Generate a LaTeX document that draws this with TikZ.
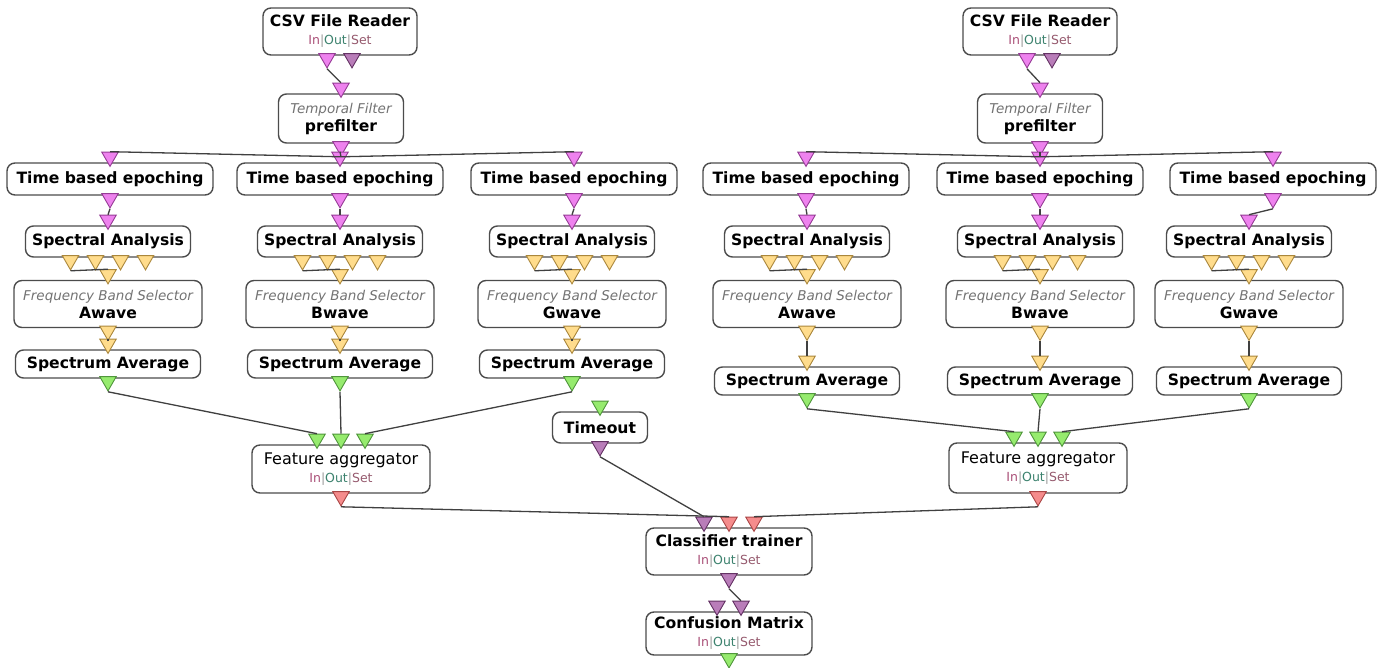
\documentclass[tikz,border=0pt]{standalone}
\usepackage{fontspec}
\setmainfont{DejaVu Sans}
\usetikzlibrary{positioning,shapes.geometric}

\definecolor{sigfill}{RGB}{238,130,238}
\definecolor{sigdraw}{RGB}{150,60,150}
\definecolor{spcfill}{RGB}{255,220,140}
\definecolor{spcdraw}{RGB}{170,135,60}
\definecolor{matfill}{RGB}{150,235,110}
\definecolor{matdraw}{RGB}{80,150,60}
\definecolor{stmfill}{RGB}{185,125,185}
\definecolor{stmdraw}{RGB}{100,50,100}
\definecolor{ftrfill}{RGB}{245,140,140}
\definecolor{ftrdraw}{RGB}{170,70,70}
\definecolor{incol}{RGB}{170,80,120}
\definecolor{outcol}{RGB}{60,130,110}
\definecolor{setcol}{RGB}{150,90,110}

\newcommand{\bftxt}{\fontsize{15.6}{18}\selectfont\bfseries}
\newcommand{\rmtxt}{\fontsize{16}{18}\selectfont\mdseries}
\newcommand{\ittxt}{\fontsize{13.5}{16}\selectfont\mdseries\itshape\color{black!55}}
\newcommand{\ios}{{\fontsize{12.5}{14}\selectfont\mdseries\textcolor{incol}{In}\textcolor{black!40}{|}\textcolor{outcol}{Out}\textcolor{black!40}{|}\textcolor{setcol}{Set}}}

\tikzset{
  box/.style={draw=black!70, line width=1.4pt, rounded corners=8pt, fill=white,
    inner sep=0pt, font=\bftxt, align=center},
  port/.style={regular polygon, regular polygon sides=3, shape border rotate=180,
    minimum size=19pt, inner sep=0pt, line width=0.9pt},
  sig/.style={port, fill=sigfill, draw=sigdraw},
  spc/.style={port, fill=spcfill, draw=spcdraw},
  mat/.style={port, fill=matfill, draw=matdraw},
  stm/.style={port, fill=stmfill, draw=stmdraw},
  ftr/.style={port, fill=ftrfill, draw=ftrdraw},
  link/.style={draw=black!75, line width=1.3pt}
}

% one band: epoching -> spectral analysis -> band selector -> average
\newcommand{\bandcolumn}[5]{%
  \node[box, minimum width=206pt, minimum height=32pt] (#1ep) at (#2,179) {Time based epoching};
  \node[sig, above=-5pt of #1ep.north] (#1epi) {};
  \node[sig, below=-2.5pt of #1ep.south] (#1epo) {};
  \node[box, minimum width=165pt, minimum height=31pt] (#1sa) at (#3,241.5) {Spectral Analysis};
  \node[sig, above=-5pt of #1sa.north] (#1sai) {};
  \foreach \k/\dx in {1/-37.5,2/-12.5,3/12.5,4/37.5}
    \node[spc, below=-2.5pt of #1sa.south, xshift=\dx pt] (#1sao\k) {};
  \node[box, minimum width=188pt, minimum height=47pt] (#1fb) at (#3,304) {{\ittxt Frequency Band Selector}\\#5};
  \node[spc, above=-5pt of #1fb.north] (#1fbi) {};
  \node[spc, below=-2.5pt of #1fb.south] (#1fbo) {};
  \node[box, minimum width=185pt, minimum height=28pt] (#1av) at (#3,#4) {Spectrum Average};
  \node[spc, above=-5pt of #1av.north] (#1avi) {};
  \node[mat, below=-2.5pt of #1av.south] (#1avo) {};
  \draw[link] (#1epo.south) -- (#1sai.north);
  \draw[link] (#1sao1.south) -- (#1fbi.north);
  \draw[link] (#1fbo.south) -- (#1avi.north);
}

\begin{document}
\begin{tikzpicture}[x=1pt, y=-1pt]
  \path[use as bounding box, fill=white] (0,0) rectangle (1386,668);

  % left scenario
  \node[box, minimum width=154pt, minimum height=47pt] (csvL) at (340,31.5) {CSV File Reader\\\ios};
  \node[sig, below=-2.5pt of csvL.south, xshift=-13pt] (csvLo1) {};
  \node[stm, below=-2.5pt of csvL.south, xshift=12pt] (csvLo2) {};
  \node[box, minimum width=125pt, minimum height=49pt] (preL) at (341,118.5) {{\ittxt Temporal Filter}\\prefilter};
  \node[sig, above=-5pt of preL.north] (preLi) {};
  \node[sig, below=-2.5pt of preL.south] (preLo) {};
  \draw[link] (csvLo1.south) -- (preLi.north);

  \bandcolumn{la}{110}{108}{364}{Awave}
  \bandcolumn{lb}{340}{340}{364}{Bwave}
  \bandcolumn{lg}{574}{572}{364}{Gwave}
  \foreach \c in {la,lb,lg}
    \draw[link] (preLo.south) -- (\c epi.north);

  \node[box, font=\rmtxt, minimum width=178pt, minimum height=48pt] (faL) at (341,469) {Feature aggregator\\\ios};
  \node[mat, above=-5pt of faL.north, xshift=-24pt] (faLi1) {};
  \node[mat, above=-5pt of faL.north] (faLi2) {};
  \node[mat, above=-5pt of faL.north, xshift=24pt] (faLi3) {};
  \node[ftr, below=-2.5pt of faL.south] (faLo) {};
  \draw[link] (laavo.south) -- (faLi1.north);
  \draw[link] (lbavo.south) -- (faLi2.north);
  \draw[link] (lgavo.south) -- (faLi3.north);

  % right scenario
  \node[box, minimum width=154pt, minimum height=47pt] (csvR) at (1040,31.5) {CSV File Reader\\\ios};
  \node[sig, below=-2.5pt of csvR.south, xshift=-13pt] (csvRo1) {};
  \node[stm, below=-2.5pt of csvR.south, xshift=12pt] (csvRo2) {};
  \node[box, minimum width=125pt, minimum height=49pt] (preR) at (1040,118.5) {{\ittxt Temporal Filter}\\prefilter};
  \node[sig, above=-5pt of preR.north] (preRi) {};
  \node[sig, below=-2.5pt of preR.south] (preRo) {};
  \draw[link] (csvRo1.south) -- (preRi.north);

  \bandcolumn{ra}{806}{807}{381}{Awave}
  \bandcolumn{rb}{1040}{1040}{381}{Bwave}
  \bandcolumn{rg}{1273}{1249}{381}{Gwave}
  \foreach \c in {ra,rb,rg}
    \draw[link] (preRo.south) -- (\c epi.north);

  \node[box, font=\rmtxt, minimum width=178pt, minimum height=50pt] (faR) at (1038,468) {Feature aggregator\\\ios};
  \node[mat, above=-5pt of faR.north, xshift=-24pt] (faRi1) {};
  \node[mat, above=-5pt of faR.north] (faRi2) {};
  \node[mat, above=-5pt of faR.north, xshift=24pt] (faRi3) {};
  \node[ftr, below=-2.5pt of faR.south] (faRo) {};
  \draw[link] (raavo.south) -- (faRi1.north);
  \draw[link] (rbavo.south) -- (faRi2.north);
  \draw[link] (rgavo.south) -- (faRi3.north);

  % training
  \node[box, minimum width=95pt, minimum height=31pt] (tmo) at (600,427.5) {Timeout};
  \node[mat, above=-5pt of tmo.north] (tmoi) {};
  \node[stm, below=-2.5pt of tmo.south] (tmoo) {};

  \node[box, minimum width=166pt, minimum height=47pt] (clf) at (729,551.5) {Classifier trainer\\\ios};
  \node[stm, above=-5pt of clf.north, xshift=-25pt] (clfi1) {};
  \node[ftr, above=-5pt of clf.north] (clfi2) {};
  \node[ftr, above=-5pt of clf.north, xshift=25pt] (clfi3) {};
  \node[stm, below=-2.5pt of clf.south] (clfo) {};

  \node[box, minimum width=166pt, minimum height=43pt] (cfm) at (729,633.5) {Confusion Matrix\\\ios};
  \node[stm, above=-5pt of cfm.north, xshift=-12pt] (cfmi1) {};
  \node[stm, above=-5pt of cfm.north, xshift=12pt] (cfmi2) {};
  \node[mat, below=-2.5pt of cfm.south] (cfmo) {};

  \draw[link] (tmoo.south) -- (clfi1.north);
  \draw[link] (faLo.south) -- (clfi2.north);
  \draw[link] (faRo.south) -- (clfi3.north);
  \draw[link] (clfo.south) -- (cfmi2.north);
\end{tikzpicture}
\end{document}
